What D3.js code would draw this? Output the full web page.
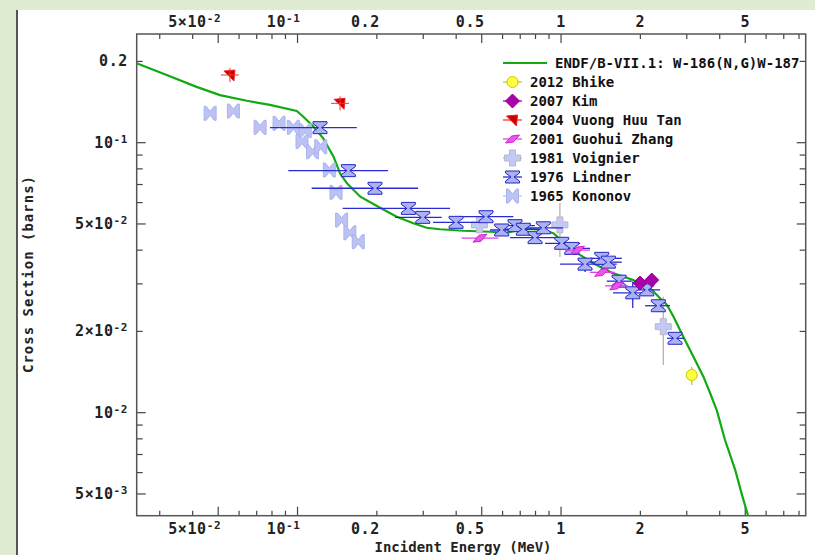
<!DOCTYPE html>
<html>
<head>
<meta charset="utf-8">
<script src="https://cdn.jsdelivr.net/npm/d3@7"></script>
<style>
body { margin: 0; background: #fff; }
svg { display: block; }
</style>
</head>
<body>
<div id="chart"></div>
<script>
var W = 815, H = 555;
var L = 136.7, R = 805.7, T = 34, B = 515.7;

// ENDF/B-VII.1 evaluated curve
var curveE = [0.0245, 0.031, 0.0414, 0.0508, 0.0642, 0.0786, 0.0993, 0.105, 0.115, 0.125, 0.137, 0.145, 0.154, 0.173, 0.2025, 0.238, 0.275, 0.309, 0.347, 0.426, 0.538, 0.622, 0.699, 0.763, 0.857, 0.935, 1.05, 1.18, 1.33, 1.58, 1.88, 2.18, 2.38, 2.52, 2.67, 2.91, 3.18, 3.47, 3.68, 3.90, 4.19, 4.58, 4.86, 5.13];
var curveXS = [0.197, 0.180, 0.161, 0.150, 0.143, 0.138, 0.131, 0.125, 0.1146, 0.104, 0.0888, 0.077, 0.0707, 0.0631, 0.0579, 0.0532, 0.0503, 0.0484, 0.0478, 0.0472, 0.0468, 0.0464, 0.0475, 0.0479, 0.0475, 0.0462, 0.0418, 0.0384, 0.0357, 0.0328, 0.0310, 0.0289, 0.0265, 0.0251, 0.0227, 0.0191, 0.0161, 0.0136, 0.0118, 0.0102, 0.00792, 0.00614, 0.00496, 0.00414];

// 1976 Lindner
var lindE = [0.1217, 0.1559, 0.1968, 0.2634, 0.2987, 0.3996, 0.5191, 0.5955, 0.669, 0.7192, 0.7967, 0.8567, 1.006, 1.098, 1.233, 1.427, 1.512, 1.66, 1.871, 2.115, 2.34, 2.708];
var lindXS = [0.1137, 0.0788, 0.0678, 0.0571, 0.0529, 0.0507, 0.0532, 0.0475, 0.0493, 0.0478, 0.0445, 0.0484, 0.0424, 0.0406, 0.0355, 0.0373, 0.0361, 0.0307, 0.0278, 0.0285, 0.0249, 0.01886];
var lindELo = [0.0786, 0.0923, 0.1132, 0.1484, 0.2344, 0.3268, 0.402, 0.5377, 0.5617, 0.6131, 0.6404, 0.6991, 0.8695, 0.9489, 0.9913, 1.288, 1.288, 1.491, 1.575, 1.909, 2.084, 2.525];
var lindEHi = [0.1678, 0.2206, 0.2867, 0.3791, 0.3525, 0.4927, 0.6592, 0.73, 0.7967, 0.8695, 0.9913, 1.0176, 1.181, 1.288, 1.627, 1.70, 1.70, 1.855, 2.177, 2.376, 2.592, 2.93];
var lindXSLo = [0.1137, 0.0788, 0.0678, 0.0571, 0.0529, 0.0507, 0.0532, 0.0475, 0.0493, 0.0478, 0.0430, 0.0484, 0.0424, 0.0406, 0.0332, 0.0373, 0.0361, 0.0307, 0.0244, 0.0285, 0.0249, 0.01886];
var lindXSHi = [0.1137, 0.0788, 0.0678, 0.0571, 0.0529, 0.0507, 0.0532, 0.0475, 0.0493, 0.0478, 0.0462, 0.0484, 0.0424, 0.0406, 0.0374, 0.0373, 0.0361, 0.0307, 0.0306, 0.0285, 0.0249, 0.01886];

// 1965 Kononov
var konE = [0.0466, 0.0571, 0.0721, 0.0851, 0.0964, 0.107, 0.104, 0.114, 0.1225, 0.132, 0.140, 0.147, 0.158, 0.170];
var konXS = [0.1285, 0.131, 0.114, 0.118, 0.114, 0.111, 0.101, 0.0926, 0.0966, 0.0792, 0.0655, 0.0517, 0.0464, 0.0430];

// 1981 Voignier
var voiE = [0.49, 0.99, 2.444];
var voiXS = [0.0496, 0.0496, 0.02083];
var voiXSLo = [0.0496, 0.0377, 0.01502];
var voiXSHi = [0.0496, 0.0598, 0.0269];

// 2001 Guohui Zhang
var zhaE = [0.4927, 1.155, 1.427, 1.627];
var zhaXS = [0.0443, 0.0400, 0.0331, 0.0295];
var zhaELo = [0.4199, 1.035, 1.288, 1.469];
var zhaEHi = [0.5781, 1.288, 1.60, 1.796];

// 2004 Vuong Huu Tan
var tanE = [0.0554, 0.145];
var tanXS = [0.1781, 0.1399];

// 2007 Kim
var kimE = [1.994, 2.209];
var kimXS = [0.0302, 0.0310];

// 2012 Bhike
var bhiE = [3.133];
var bhiXS = [0.01379];
var bhiXSLo = [0.01267];
var bhiXSHi = [0.0148];

var xTickVals = [0.05, 0.1, 0.2, 0.5, 1, 2, 5];
var xTickText = [["5×10", "-2"], ["10", "-1"], ["0.2"], ["0.5"], ["1"], ["2"], ["5"]];
var yTickVals = [0.2, 0.1, 0.05, 0.02, 0.01, 0.005];
var yTickText = [["0.2"], ["10", "-1"], ["5×10", "-2"], ["2×10", "-2"], ["10", "-2"], ["5×10", "-3"]];

var legendNames = ["2012 Bhike", "2007 Kim", "2004 Vuong Huu Tan", "2001 Guohui Zhang", "1981 Voignier", "1976 Lindner", "1965 Kononov"];
var legendKeys = ["bhi", "kim", "tan", "zha", "voi", "lin", "kon"];

var green = "#12aa12";
var font = "'DejaVu Sans Mono', monospace";

var x = d3.scaleLog().domain([0.02453, 8.48]).range([L, R]);
var y = d3.scaleLog().domain([0.004154, 0.2527]).range([B, T]);

var svg = d3.select("#chart").append("svg")
	.attr("width", W)
	.attr("height", H);

// page background strips
svg.append("rect").attr("x", 0).attr("y", 0).attr("width", W).attr("height", 10).attr("fill", "#dfecd2");
svg.append("rect").attr("x", 0).attr("y", 0).attr("width", 17).attr("height", H).attr("fill", "#dfecd2");
svg.append("line").attr("x1", 17).attr("x2", 17).attr("y1", 10).attr("y2", H)
	.attr("stroke", "#222").attr("stroke-width", 1.5);

svg.append("clipPath").attr("id", "clip")
	.append("rect").attr("x", L).attr("y", T).attr("width", R - L).attr("height", B - T);

// ticks
function ticksIn(lo, hi) {
	var out = [];
	for (var k = -3; k <= 1; k++) {
		for (var m = 1; m <= 9; m++) {
			var v = m * Math.pow(10, k);
			if (v >= lo && v <= hi) out.push(v);
		}
	}
	return out;
}
function isLong(v) {
	var m = v / Math.pow(10, Math.floor(Math.log10(v) + 1e-9));
	return Math.abs(m - 1) < 1e-6 || Math.abs(m - 5) < 1e-6;
}
var xAll = ticksIn(x.domain()[0], x.domain()[1]);
var yAll = ticksIn(y.domain()[0], y.domain()[1]);

var axes = svg.append("g").attr("stroke", "#444").attr("stroke-width", 1.2);
xAll.forEach(function(v) {
	var len = isLong(v) ? 9 : 5;
	axes.append("line").attr("x1", x(v)).attr("x2", x(v)).attr("y1", T).attr("y2", T + len);
	axes.append("line").attr("x1", x(v)).attr("x2", x(v)).attr("y1", B).attr("y2", B - len);
});
yAll.forEach(function(v) {
	var len = isLong(v) ? 9 : 6;
	axes.append("line").attr("x1", L).attr("x2", L + len).attr("y1", y(v)).attr("y2", y(v));
	axes.append("line").attr("x1", R).attr("x2", R - len).attr("y1", y(v)).attr("y2", y(v));
});
svg.append("rect")
	.attr("x", L).attr("y", T).attr("width", R - L).attr("height", B - T)
	.attr("fill", "none").attr("stroke", "#555").attr("stroke-width", 1.5);

function tickLabel(g, parts, px, py, anchor) {
	var t = g.append("text")
		.attr("x", px).attr("y", py)
		.attr("text-anchor", anchor)
		.style("font-family", font)
		.style("font-weight", "bold")
		.style("font-size", "15px")
		.style("letter-spacing", "0.6px")
		.attr("fill", "#222")
		.text(parts[0]);
	if (parts.length > 1) {
		t.append("tspan").attr("dy", -5).style("font-size", "11px").text(parts[1]);
	}
}
xTickVals.forEach(function(v, i) {
	var single = xTickText[i].length === 1 && xTickText[i][0].length === 1;
	var px = single ? x(v) : x(v) + 3;
	var anchor = single ? "middle" : "end";
	tickLabel(svg, xTickText[i], px, 27, anchor);
	tickLabel(svg, xTickText[i], px, 534, anchor);
});
yTickVals.forEach(function(v, i) {
	tickLabel(svg, yTickText[i], 128, y(v) + 5, "end");
});

svg.append("text")
	.attr("x", 463).attr("y", 552)
	.attr("text-anchor", "middle")
	.style("font-family", font).style("font-weight", "bold").style("font-size", "14px")
	.attr("fill", "#222")
	.text("Incident Energy (MeV)");
svg.append("text")
	.attr("transform", "translate(33,274) rotate(-90)")
	.attr("text-anchor", "middle")
	.style("font-family", font).style("font-weight", "bold").style("font-size", "14px")
	.style("letter-spacing", "1px")
	.attr("fill", "#222")
	.text("Cross Section (barns)");

// marker shapes
var shapes = {
	lin: { d: "M-7,-6L7,-6L7,-4L1.5,0L7,4L7,6L-7,6L-7,4L-1.5,0L-7,-4Z", fill: "#aab2f2", stroke: "#2626c8", bar: "#2a2ad2" },
	kon: { d: "M-6,-7L-4,-7L0,-2L4,-7L6,-7L6,7L4,7L0,2L-4,7L-6,7Z", fill: "#bcc3f4", stroke: "#aab2ec", bar: "#bcc3f4" },
	voi: { d: "M-3,-8h6v5h5v6h-5v5h-6v-5h-5v-6h5Z", fill: "#c4c8f4", stroke: "#b8b8c8", bar: "#b4b4b4" },
	zha: { d: "M-7,4L-1,-3L7,-4L1,3Z", fill: "#ee55ee", stroke: "#cc22cc", bar: "#e044e0" },
	tan: { d: "M-6,-4L5,-5L4,6Z", fill: "#cc0000", stroke: "#ee2020", bar: "#ff3030" },
	kim: { d: "M0,-7L7,0L0,7L-7,0Z", fill: "#aa00aa", stroke: "#990099", bar: "#aa00aa" },
	bhi: { d: "M-5.5,0a5.5,5.5 0 1,0 11,0a5.5,5.5 0 1,0 -11,0Z", fill: "#ffff40", stroke: "#c8c800", bar: "#c8c820" }
};

var plot = svg.append("g").attr("clip-path", "url(#clip)");

function drawSeries(key, E, XS, ELo, EHi, XSLo, XSHi) {
	var s = shapes[key];
	var g = plot.append("g");
	E.forEach(function(e, i) {
		if (ELo && EHi && ELo[i] !== EHi[i]) {
			g.append("line").attr("x1", x(ELo[i])).attr("x2", x(EHi[i]))
				.attr("y1", y(XS[i])).attr("y2", y(XS[i]))
				.attr("stroke", s.bar).attr("stroke-width", 1.3);
		}
		if (XSLo && XSHi && XSLo[i] !== XSHi[i]) {
			g.append("line").attr("x1", x(e)).attr("x2", x(e))
				.attr("y1", y(XSLo[i])).attr("y2", y(XSHi[i]))
				.attr("stroke", s.bar).attr("stroke-width", 1.3);
		}
	});
	g.selectAll("path")
		.data(E)
		.enter()
		.append("path")
		.attr("d", s.d)
		.attr("transform", (d, i) => "translate(" + x(d) + "," + y(XS[i]) + ")")
		.attr("fill", s.fill)
		.attr("stroke", s.stroke)
		.attr("stroke-width", 1);
}

plot.append("path")
	.datum(curveE.map((e, i) => [e, curveXS[i]]))
	.attr("d", d3.line().x(d => x(d[0])).y(d => y(d[1])))
	.attr("fill", "none")
	.attr("stroke", green)
	.attr("stroke-width", 2.2);

drawSeries("kon", konE, konXS);
drawSeries("voi", voiE, voiXS, null, null, voiXSLo, voiXSHi);
drawSeries("lin", lindE, lindXS, lindELo, lindEHi, lindXSLo, lindXSHi);
drawSeries("zha", zhaE, zhaXS, zhaELo, zhaEHi);
drawSeries("tan", tanE, tanXS);
drawSeries("kim", kimE, kimXS);
drawSeries("bhi", bhiE, bhiXS, null, null, bhiXSLo, bhiXSHi);

// cross hairs on Tan points
tanE.forEach(function(e, i) {
	plot.append("line").attr("x1", x(e) - 9).attr("x2", x(e) + 9).attr("y1", y(tanXS[i])).attr("y2", y(tanXS[i]))
		.attr("stroke", shapes.tan.bar).attr("stroke-width", 1);
	plot.append("line").attr("x1", x(e)).attr("x2", x(e)).attr("y1", y(tanXS[i]) - 7).attr("y2", y(tanXS[i]) + 7)
		.attr("stroke", shapes.tan.bar).attr("stroke-width", 1);
});

// legend
var lg = svg.append("g");
lg.append("line").attr("x1", 503).attr("x2", 547).attr("y1", 63).attr("y2", 63)
	.attr("stroke", green).attr("stroke-width", 2.2);
lg.append("text").attr("x", 555).attr("y", 68)
	.style("font-family", font).style("font-weight", "bold").style("font-size", "14px")
	.attr("fill", "#111")
	.text("ENDF/B-VII.1: W-186(N,G)W-187");
legendNames.forEach(function(name, i) {
	var s = shapes[legendKeys[i]];
	var cy = 82 + i * 19;
	lg.append("line").attr("x1", 503).attr("x2", 522).attr("y1", cy).attr("y2", cy)
		.attr("stroke", s.bar).attr("stroke-width", 1.3);
	lg.append("path").attr("d", s.d)
		.attr("transform", "translate(512.5," + cy + ")")
		.attr("fill", s.fill).attr("stroke", s.stroke);
	lg.append("text").attr("x", 530).attr("y", cy + 5)
		.style("font-family", font).style("font-weight", "bold").style("font-size", "14px")
		.attr("fill", "#111")
		.text(name);
});
</script>
</body>
</html>
